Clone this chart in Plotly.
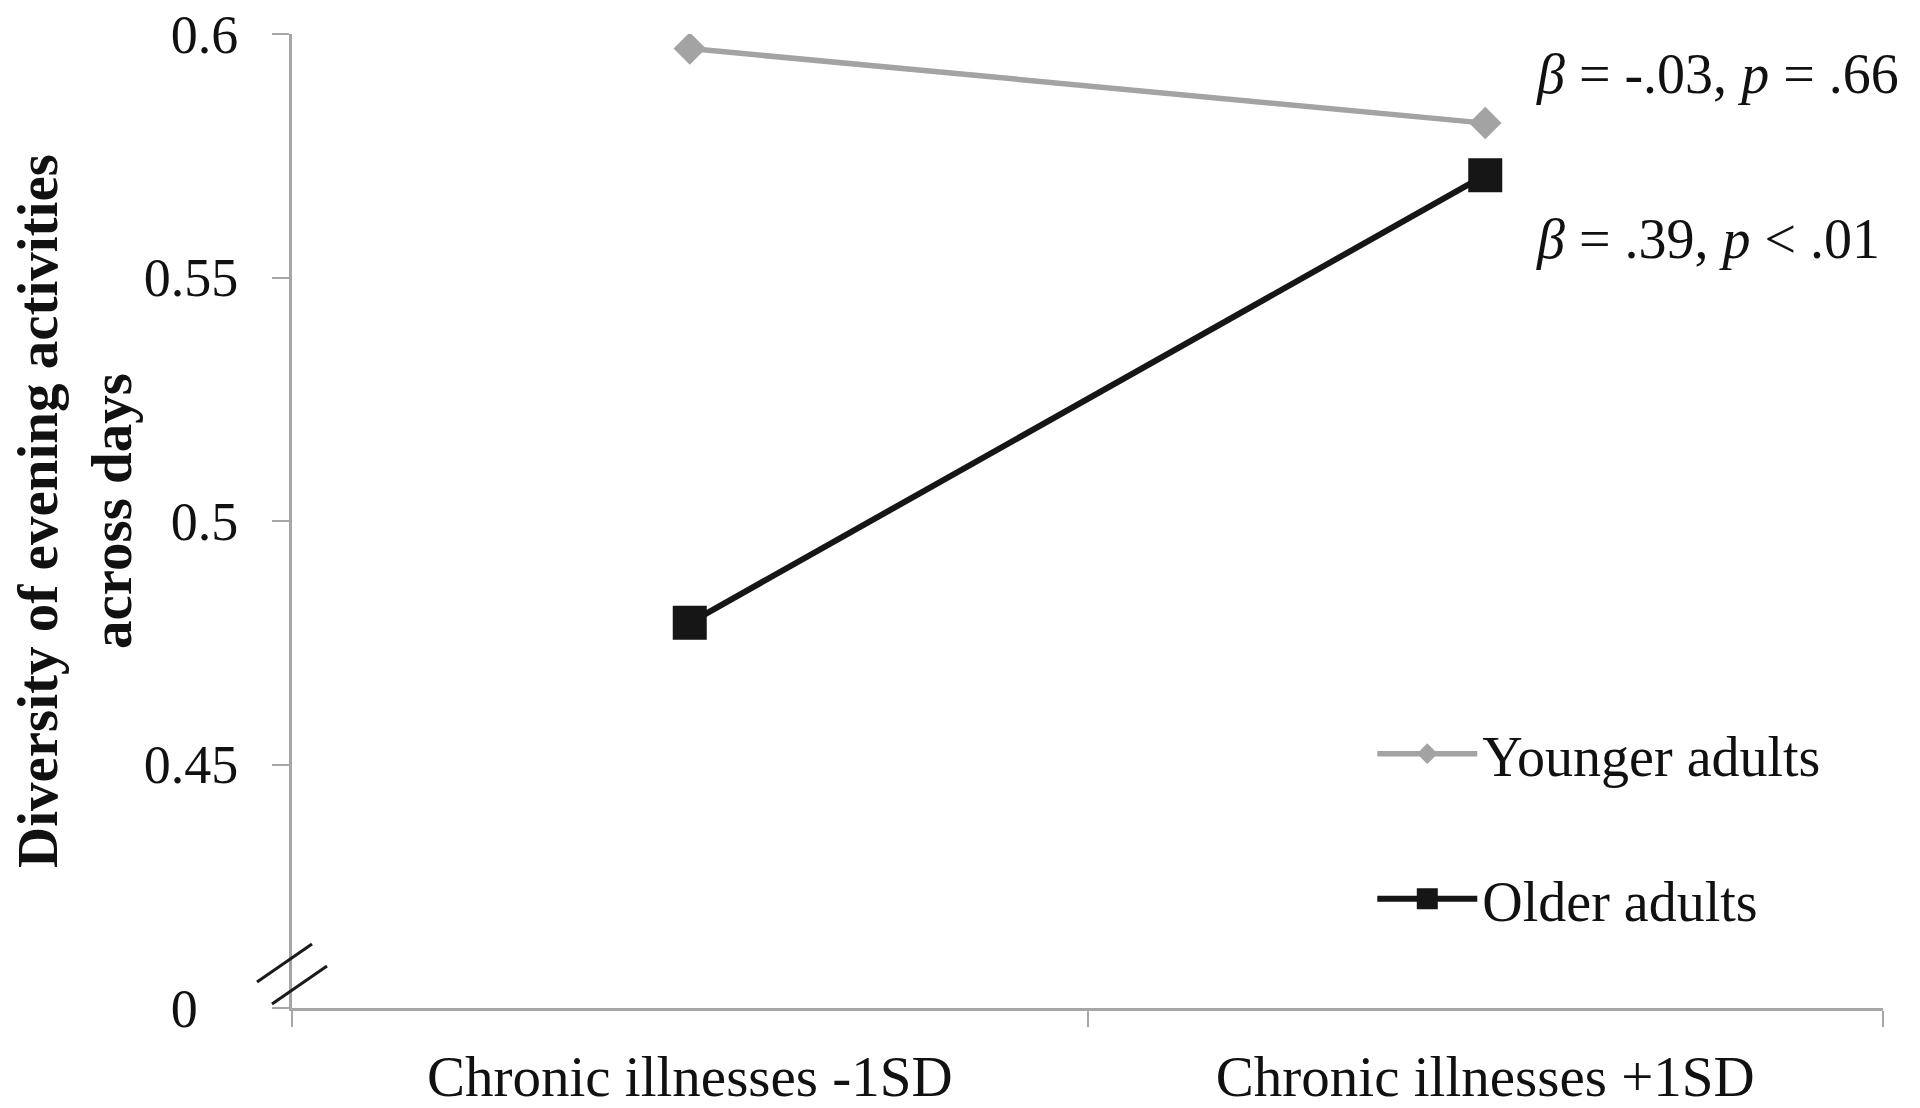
import plotly.graph_objects as go

# ---- data ----
categories = ["Chronic illnesses -1SD", "Chronic illnesses +1SD"]
younger = [0.597, 0.5817]
older = [0.4791, 0.5710]
y_tickvals = [0.40, 0.45, 0.50, 0.55, 0.60]
y_ticktext = ["0\u00a0\u00a0\u00a0", "0.45", "0.5", "0.55", "0.6"]
series_names = ["Younger adults", "Older adults"]
stats_text = ["<i>β</i> = -.03, <i>p</i> = .66", "<i>β</i> = .39, <i>p</i> < .01"]
y_title = "Diversity of evening activities<br>across days"

FONT = "Liberation Serif, Times New Roman, serif"
GRAY = "#a3a3a3"
BLACK = "#161616"
AXIS = "#a6a6a6"

fig = go.Figure()
fig.add_trace(go.Scatter(
    x=categories, y=younger, name=series_names[0], mode="lines+markers",
    line=dict(color=GRAY, width=5.5),
    marker=dict(symbol="diamond", size=25, color=GRAY),
    legend="legend",
))
fig.add_trace(go.Scatter(
    x=categories, y=older, name=series_names[1], mode="lines+markers",
    line=dict(color=BLACK, width=6),
    marker=dict(symbol="square", size=29, color=BLACK,
                line=dict(color=BLACK, width=5)),
    legend="legend2",
))

W, H = 1920, 1108
L, R, T, B = 292, 37, 34, 100

fig.update_layout(
    width=W, height=H, autosize=False,
    margin=dict(l=L, r=R, t=T, b=B),
    paper_bgcolor="white", plot_bgcolor="white",
    font=dict(family=FONT, size=56, color="#111111"),
    xaxis=dict(
        type="category", range=[-0.5, 1.5], tickson="boundaries",
        showline=True, linecolor=AXIS, linewidth=3,
        ticks="outside", ticklen=16, tickwidth=2, tickcolor=AXIS,
        showgrid=False, zeroline=False, automargin=False,
        tickfont=dict(family=FONT, size=57, color="#111111"),
        ticklabelstandoff=17, ticklabeloverflow="allow",
    ),
    yaxis=dict(
        range=[0.40, 0.60], tickvals=y_tickvals, ticktext=y_ticktext,
        showline=True, linecolor=AXIS, linewidth=3,
        ticks="outside", ticklen=17, tickwidth=2, tickcolor=AXIS,
        showgrid=False, zeroline=False, automargin=False,
        tickfont=dict(family=FONT, size=54, color="#111111"),
        ticklabelstandoff=23, ticklabeloverflow="allow",
    ),
    legend=dict(
        x=0.6790, y=0.2610, xanchor="left", yanchor="middle",
        font=dict(family=FONT, size=56, color="#111111"),
        bgcolor="rgba(0,0,0,0)", itemwidth=100, itemsizing="trace",
    ),
    legend2=dict(
        x=0.6790, y=0.1120, xanchor="left", yanchor="middle",
        font=dict(family=FONT, size=56, color="#111111"),
        bgcolor="rgba(0,0,0,0)", itemwidth=100, itemsizing="trace",
    ),
    showlegend=True,
)

# y-axis title
fig.add_annotation(
    text="<b>" + y_title + "</b>", xref="paper", yref="paper",
    x=0, y=0.5, xshift=74 - L, yshift=10, xanchor="center", yanchor="middle",
    textangle=-90, showarrow=False,
    font=dict(family=FONT, size=57, color="#111111"),
)

# statistics annotations
for txt, yp in zip(stats_text, [0.9590, 0.7895]):
    fig.add_annotation(
        text=txt, xref="paper", yref="paper", x=0.7805, y=yp,
        xanchor="left", yanchor="middle", showarrow=False,
        font=dict(family=FONT, size=56, color="#111111"),
    )

# axis break marks
for (x0, y0, x1, y1) in [(-0.0220, 0.0267, 0.01257, 0.0657),
                         (-0.01257, 0.0041, 0.0220, 0.0431)]:
    fig.add_shape(type="line", xref="paper", yref="paper",
                  x0=x0, y0=y0, x1=x1, y1=y1,
                  line=dict(color="#1a1a1a", width=3))

fig.write_html(
    "out.html",
    config={"displayModeBar": False},
    post_script="document.body.style.margin='0';document.body.style.overflow='hidden';",
)
